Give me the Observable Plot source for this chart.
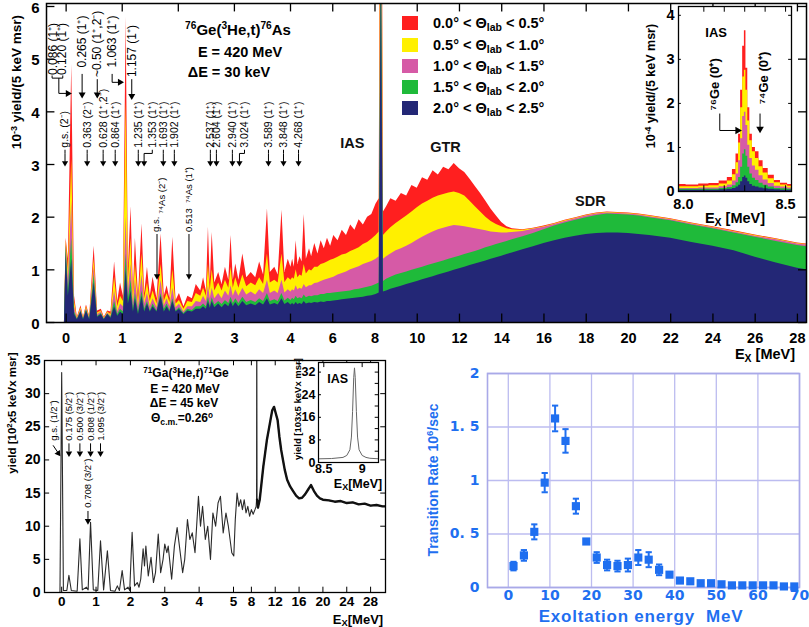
<!DOCTYPE html>
<html><head><meta charset="utf-8">
<script src="https://cdn.jsdelivr.net/npm/d3@7"></script>
<script src="https://cdn.jsdelivr.net/npm/@observablehq/plot@0.6"></script>
<style>
body{margin:0;background:#fff;}
#fig{position:relative;width:809px;height:627px;overflow:hidden;font-family:"Liberation Sans",Arial,Helvetica,sans-serif;background:#fff;}
.abs{position:absolute;white-space:nowrap;line-height:1;}
sup{font-size:0.68em;vertical-align:0.5em;line-height:0;}
sub{font-size:0.72em;vertical-align:-0.3em;line-height:0;}
</style></head><body><div id="fig"></div>
<script>
// ===== Top panel: 76Ge(3He,t)76As spectrum, cumulative tops of the five angle cuts =====
const exTop = [-0.35,-0.03,0.0,0.04,0.10,0.15,0.2,0.265,0.31,0.363,0.42,0.50,0.56,0.628,0.68,0.74,0.80,0.864,0.92,0.97,1.02,1.07,1.11,1.157,1.20,1.235,1.29,1.353,1.40,1.45,1.50,1.55,1.62,1.693,1.75,1.80,1.85,1.902,1.96,2.02,2.1,2.17,2.25,2.32,2.4,2.45,2.5,2.537,2.57,2.604,2.65,2.72,2.78,2.84,2.9,2.94,2.98,3.024,3.08,3.15,3.22,3.3,3.38,3.45,3.52,3.589,3.64,3.72,3.78,3.848,3.9,3.96,4.02,4.1,4.18,4.268,4.35,4.45,4.55,4.65,4.75,4.9,5.0,5.15,5.3,5.45,5.6,5.75,5.9,6.05,6.25,6.45,6.65,6.85,7.05,7.25,7.45,7.65,7.85,8.05,8.2,8.3,8.4,8.55,8.75,9.0,9.25,9.5,9.75,10.0,10.25,10.5,10.75,11.0,11.25,11.5,11.75,12.0,12.25,12.5,12.75,13.0,13.25,13.5,13.75,14.0,14.25,14.5,15.0,15.5,16.0,16.5,17.0,17.5,18.0,18.5,19.0,19.5,20.0,20.5,21.0,22.0,23.0,24.0,25.0,26.0,27.0,28.0,28.43];
const topBlue = [0,0,1.33,0.5,1.2,0.15,0.05,0.2,0.05,0.22,0.05,0.75,0.1,0.15,0.05,0.15,0.08,0.3,0.12,0.2,0.15,1.0,0.35,0.6,0.2,0.45,0.15,0.5,0.2,0.35,0.2,0.3,0.2,0.5,0.2,0.3,0.2,0.4,0.2,0.25,0.15,0.22,0.2,0.25,0.25,0.3,0.25,0.4,0.27,0.4,0.28,0.35,0.28,0.35,0.3,0.4,0.3,0.38,0.3,0.4,0.32,0.35,0.32,0.38,0.33,0.45,0.33,0.36,0.33,0.45,0.34,0.38,0.33,0.36,0.33,0.38,0.34,0.36,0.34,0.4,0.35,0.37,0.36,0.38,0.37,0.39,0.38,0.4,0.4,0.41,0.42,0.43,0.44,0.45,0.46,0.47,0.48,0.5,0.51,0.53,0.56,6.8,0.58,0.6,0.63,0.66,0.69,0.72,0.75,0.78,0.81,0.84,0.87,0.9,0.93,0.96,0.99,1.02,1.05,1.08,1.11,1.14,1.17,1.2,1.23,1.26,1.29,1.32,1.38,1.44,1.5,1.55,1.6,1.64,1.67,1.69,1.7,1.7,1.69,1.67,1.65,1.6,1.52,1.45,1.36,1.24,1.13,1.03,1.0];
const topGreen = [0,0,1.46,0.6,1.6,0.2,0.06,0.22,0.06,0.24,0.06,0.9,0.12,0.17,0.06,0.16,0.1,0.4,0.15,0.25,0.2,1.3,0.45,0.8,0.25,0.55,0.2,0.6,0.25,0.4,0.22,0.35,0.22,0.55,0.25,0.35,0.23,0.45,0.22,0.28,0.17,0.25,0.23,0.3,0.3,0.35,0.3,0.48,0.32,0.47,0.33,0.4,0.34,0.42,0.36,0.48,0.36,0.45,0.36,0.48,0.38,0.42,0.38,0.45,0.4,0.55,0.4,0.43,0.4,0.55,0.41,0.46,0.42,0.46,0.43,0.5,0.45,0.47,0.45,0.52,0.47,0.5,0.49,0.51,0.51,0.53,0.53,0.55,0.55,0.56,0.57,0.58,0.59,0.6,0.62,0.63,0.65,0.67,0.69,0.72,0.75,8,0.78,0.82,0.86,0.9,0.93,0.96,0.99,1.02,1.05,1.08,1.11,1.14,1.17,1.2,1.23,1.26,1.29,1.32,1.35,1.38,1.42,1.45,1.48,1.51,1.54,1.57,1.63,1.69,1.76,1.83,1.89,1.94,1.99,2.03,2.06,2.05,2.04,2.02,1.99,1.93,1.85,1.78,1.70,1.62,1.54,1.46,1.44];
const topPink = [0,0,1.5,0.8,2.3,0.3,0.07,0.25,0.07,0.27,0.08,1.05,0.15,0.2,0.07,0.18,0.12,0.6,0.2,0.35,0.3,2.0,0.6,1.1,0.35,0.8,0.3,0.9,0.35,0.55,0.3,0.45,0.28,0.8,0.32,0.45,0.3,0.65,0.28,0.35,0.2,0.3,0.3,0.4,0.38,0.5,0.4,0.7,0.45,0.65,0.45,0.55,0.45,0.6,0.5,0.7,0.5,0.62,0.5,0.65,0.52,0.58,0.52,0.62,0.55,0.8,0.55,0.6,0.55,0.8,0.56,0.62,0.58,0.62,0.6,0.7,0.62,0.65,0.63,0.72,0.66,0.7,0.7,0.74,0.75,0.78,0.8,0.82,0.84,0.86,0.9,0.93,0.96,1.0,1.03,1.06,1.1,1.13,1.16,1.2,1.25,10,1.2,1.25,1.3,1.36,1.4,1.45,1.5,1.56,1.62,1.67,1.72,1.76,1.79,1.82,1.84,1.83,1.82,1.8,1.78,1.76,1.74,1.72,1.71,1.7,1.7,1.71,1.73,1.77,1.81,1.86,1.92,1.97,2.02,2.06,2.08,2.07,2.06,2.04,2.01,1.95,1.87,1.80,1.72,1.64,1.57,1.49,1.47];
const topYellow = [0,0,1.55,1.0,3.1,0.4,0.08,0.28,0.08,0.3,0.1,1.2,0.18,0.22,0.08,0.2,0.15,0.86,0.3,0.5,0.4,4.2,0.8,1.6,0.5,1.1,0.4,1.3,0.45,0.75,0.4,0.6,0.35,1.1,0.4,0.55,0.38,1.0,0.35,0.42,0.25,0.4,0.38,0.55,0.5,0.65,0.5,1.1,0.6,1.0,0.6,0.75,0.6,0.8,0.65,1.05,0.65,0.85,0.65,0.9,0.68,0.75,0.7,0.85,0.72,1.3,0.75,0.8,0.75,1.3,0.76,0.85,0.8,0.85,0.82,1.0,0.85,0.9,0.88,1.1,0.92,1.0,0.98,1.05,1.05,1.1,1.12,1.15,1.18,1.2,1.24,1.28,1.3,1.35,1.38,1.42,1.48,1.52,1.58,1.65,1.72,12,1.65,1.72,1.8,1.88,1.95,2.02,2.1,2.18,2.25,2.3,2.36,2.4,2.43,2.46,2.48,2.45,2.4,2.3,2.2,2.1,2.0,1.92,1.86,1.82,1.78,1.76,1.75,1.78,1.82,1.87,1.93,1.98,2.03,2.07,2.09,2.08,2.07,2.05,2.02,1.96,1.88,1.81,1.73,1.65,1.58,1.50,1.48];
const topRed = [0,0,1.6,1.2,4.9,0.5,0.1,0.32,0.1,0.33,0.12,1.45,0.22,0.25,0.1,0.22,0.2,1.15,0.4,0.75,0.5,5.8,1.0,2.2,0.6,1.6,0.5,1.87,0.55,1.05,0.5,0.86,0.45,1.68,0.5,0.7,0.45,1.62,0.42,0.55,0.3,0.5,0.45,0.72,0.6,0.85,0.6,1.81,0.75,1.71,0.75,0.95,0.72,1.05,0.8,1.65,0.8,1.11,0.8,1.3,0.85,0.95,0.85,1.15,0.9,2.16,0.95,1.05,0.9,2.13,0.95,1.2,1.05,1.2,1.05,1.55,1.1,1.25,1.15,2.05,1.2,1.4,1.25,1.5,1.3,1.55,1.4,1.6,1.45,1.65,1.55,1.75,1.65,1.85,1.75,1.95,1.85,2.0,2.05,2.25,2.35,14,2.1,2.2,2.35,2.3,2.45,2.4,2.6,2.55,2.75,2.7,2.88,2.8,2.95,2.9,3.02,2.92,2.85,2.72,2.58,2.45,2.3,2.15,2.02,1.9,1.82,1.78,1.76,1.79,1.83,1.88,1.94,1.99,2.04,2.08,2.1,2.09,2.08,2.06,2.03,1.97,1.89,1.82,1.74,1.66,1.59,1.51,1.49];
const topXTicks = [0,1,2,3,4,6,8,10,12,14,16,18,20,22,24,26,28];
const topYTicks = [0,1,2,3,4,5,6];
const upperLabels = ["0.086 (1⁺)","0.120 (1⁺)","0.265 (1⁺)","~0.50 (1⁺,2⁻)","1.063 (1⁺)","1.157 (1⁺)"];
const lowerLabels = ["g.s. (2⁻)","0.363 (2⁻)","0.628 (1⁺,2⁻)","0.864 (1⁺)","1.235 (1⁺)","1.353 (1⁺)","1.693 (1⁺)","1.902 (1⁺)","2.537 (1⁺)","2.604 (1⁺)","2.940 (1⁺)","3.024 (1⁺)","3.589 (1⁺)","3.848 (1⁺)","4.268 (1⁺)"];
const as74Labels = ["g.s.","⁷⁴As (2⁻)","0.513  ⁷⁴As (1⁺)"];
const legendLabels = ["0.0° &lt; Θ<sub>lab</sub> &lt; 0.5°","0.5° &lt; Θ<sub>lab</sub> &lt; 1.0°","1.0° &lt; Θ<sub>lab</sub> &lt; 1.5°","1.5° &lt; Θ<sub>lab</sub> &lt; 2.0°","2.0° &lt; Θ<sub>lab</sub> &lt; 2.5°"];

// ===== Top inset: IAS region =====
const exIns = [7.976,8.05,8.10,8.15,8.20,8.23,8.25,8.265,8.275,8.285,8.295,8.302,8.31,8.32,8.33,8.345,8.36,8.38,8.40,8.43,8.46,8.49,8.53];
const insBlue   = [0.03,0.03,0.03,0.03,0.04,0.05,0.07,0.10,0.14,0.22,0.32,0.35,0.30,0.22,0.16,0.12,0.10,0.08,0.06,0.05,0.04,0.03,0.03];
const insGreen  = [0.05,0.05,0.05,0.05,0.07,0.09,0.13,0.20,0.32,0.55,0.85,0.95,0.80,0.55,0.40,0.30,0.25,0.19,0.14,0.10,0.07,0.06,0.05];
const insPink   = [0.07,0.07,0.08,0.08,0.11,0.15,0.24,0.40,0.70,1.20,1.70,1.80,1.50,1.05,0.75,0.58,0.48,0.36,0.26,0.18,0.12,0.10,0.08];
const insYellow = [0.11,0.11,0.12,0.13,0.17,0.24,0.38,0.65,1.10,1.90,2.60,2.75,2.30,1.60,1.15,0.90,0.75,0.56,0.42,0.29,0.20,0.15,0.12];
const insRed    = [0.16,0.15,0.17,0.18,0.24,0.32,0.50,0.85,1.30,2.30,3.30,3.65,2.80,1.90,1.30,1.00,0.90,0.70,0.52,0.37,0.25,0.19,0.16];

// ===== Bottom-left: 71Ga(3He,t)71Ge spectrum =====
const exBL = [-0.5,-0.05,0.0,0.05,0.15,0.21,0.28,0.45,0.53,0.6,0.72,0.77,0.84,0.92,1.05,1.13,1.22,1.33,1.42,1.55,1.62,1.68,1.76,1.83,1.93,1.98,2.05,2.12,2.2,2.25,2.3,2.37,2.41,2.45,2.52,2.6,2.67,2.73,2.81,2.88,2.95,3.0,3.06,3.1,3.2,3.28,3.36,3.45,3.52,3.58,3.66,3.73,3.8,3.88,3.98,4.04,4.1,4.18,4.25,4.33,4.4,4.48,4.55,4.62,4.7,4.78,4.85,4.95,5.05,5.3,5.6,5.9,6.2,6.5,6.8,7.1,7.4,7.7,8.0,8.3,8.6,8.8,8.87,8.9,8.95,9.1,9.4,9.7,10.0,10.3,10.6,10.9,11.2,11.5,11.8,12.1,12.4,12.7,13.0,13.3,13.6,14.0,14.5,15.0,15.5,16.0,16.5,17.0,17.5,18.0,18.5,19.0,19.5,20.0,21,22,23,24,25,26,27,28,29,30,30.5];
const yieldBL = [0,0,33.2,0.3,0.3,2.6,0.3,0.2,8.1,0.4,0.8,0.4,10.6,0.4,0.3,7.8,0.4,6.3,0.3,0.2,1.0,0.3,3.3,0.4,0.8,0.3,9.1,1.0,1.5,0.8,2,6.6,4,7.0,2.5,5.3,1.5,3,8.8,3,5,7.3,6,7,2.0,7,9.8,6,3,5,11,8,9,6,14.5,10,13,8,10,5,12,10,13.5,14.5,9,12,10,6,5.5,11,15,13,14,12.5,14,12,13,11.5,12.5,11.8,12.5,13,14,45,14,12.8,14,16.5,19,21,23,24.5,26,27.5,28,27,26,23.5,21.5,20,18.5,17,16,15.3,14.6,14.2,14.3,14.8,15.5,16.2,15.3,14.6,14.2,14.0,13.9,13.7,13.8,13.5,13.6,13.3,13.4,13.1,13.2,13.0,13.0];
const blXTicks = [0,1,2,3,4,5,8,12,16,20,24,28];
const blYTicks = [0,5,10,15,20,25,30,35];
const blLabels = ["g.s. (1/2⁻)","0.175 (5/2⁻)","0.500 (3/2⁻)","0.808 (1/2⁻)","1.095 (3/2⁻)","0.708 (3/2⁻)"];

// ===== Bottom-left inset: IAS =====
const exBI = [8.43,8.6,8.75,8.8,8.84,8.86,8.875,8.89,8.90,8.91,8.925,8.94,8.96,9.0,9.05,9.1,9.22];
const yieldBI = [1.3,1.4,1.8,2.5,4.5,9,18,30,33.5,30,18,9,4.5,2.5,1.8,1.5,1.3];

// ===== Bottom-right: transition rate =====
const rateE = [1.25,3.75,6.25,8.75,11.25,13.75,16.25,18.75,21.25,23.75,26.25,28.75,31.25,33.75,36.25,38.75,41.25,43.75,46.25,48.75,51.25,53.75,56.25,58.75,61.25,63.75,66.25,68.75];
const rate = [0.20,0.30,0.52,0.98,1.58,1.37,0.76,0.43,0.28,0.21,0.20,0.21,0.28,0.26,0.165,0.12,0.065,0.058,0.04,0.04,0.03,0.02,0.02,0.02,0.02,0.02,0.01,0.01];
const rateErr = [0.04,0.05,0.07,0.09,0.12,0.11,0.07,0,0.05,0.05,0.05,0.06,0.07,0.07,0.05,0.02,0,0,0,0,0,0,0,0,0,0,0,0];
const brXTicks = [0,10,20,30,40,50,60,70];
const brYTicks = [0,0.5,1,1.5,2];

// ===================================================================
const C = {red:"#ff1f1f", yellow:"#fff000", pink:"#d65aa6", green:"#1fba3a", blue:"#232776"};
const BL = "#1f6ff0";
const FONT = "Liberation Sans, Arial, Helvetica, sans-serif";
const fmt = d => String(d);
const fig = document.getElementById("fig");
function place(node, left, top){ node.style.position="absolute"; node.style.left=left+"px"; node.style.top=top+"px"; fig.appendChild(node); }
function label(html, cx, cy, o={}){
  const d=document.createElement("div"); d.className="abs"; d.innerHTML=html;
  d.style.left=cx+"px"; d.style.top=cy+"px"; d.style.fontSize=(o.size||14)+"px";
  d.style.fontWeight=o.weight||"bold"; d.style.color=o.color||"#000";
  if(o.family) d.style.fontFamily=o.family;
  if(o.ls) d.style.letterSpacing=o.ls+"px";
  const tx = o.anchor==="start"?"0":o.anchor==="end"?"-100%":"-50%";
  d.style.transform=`translate(${tx},-50%)`+(o.rotate?` rotate(${o.rotate}deg)`:"");
  fig.appendChild(d); return d;
}
function arrowMarks(segs, heads, r=2.4){
  return [
    Plot.link(segs,{x1:d=>d[0],y1:d=>d[1],x2:d=>d[2],y2:d=>d[3],stroke:"#000",strokeWidth:1}),
    Plot.dot(heads,{x:d=>d[0],y:d=>d[1],rotate:d=>d[2],symbol:"triangle",r,fill:"#000",stroke:"none"})
  ];
}
const baseStyle = {background:"transparent", fontFamily:FONT, overflow:"visible"};

// ---------- Top panel ----------
const rowsTop = exTop.map((e,i)=>({e,b:topBlue[i],g:topGreen[i],p:topPink[i],yl:topYellow[i],r:topRed[i]}));
const upperX = [-0.235,-0.075,0.285,0.555,0.82,1.18];
const upperY = [4.70,4.70,4.84,4.66,4.84,4.66];
const lowerX = [-0.02,0.375,0.66,0.875,1.286,1.536,1.732,1.929,2.571,2.679,2.964,3.18,3.607,3.875,4.38];
const lowerArrowX = lowerX.map((x,i)=> i===5?1.39 : i===11?3.09 : x);
const upSegs = [[-0.25,4.64,-0.06,4.64],[-0.25,4.64,-0.25,4.69],[-0.06,4.64,-0.06,4.69],[-0.13,4.64,-0.13,4.35],[-0.13,4.35,0.02,4.35],
  [0.285,4.72,0.285,4.35],[0.555,4.62,0.555,4.35],[0.82,4.72,0.82,4.56],[0.82,4.56,0.95,4.56],[1.17,4.62,1.17,4.32]];
const upHeads = [[0.03,4.35,90],[0.285,4.33,180],[0.555,4.33,180],[0.96,4.56,90],[1.17,4.30,180]];
const lowSegs = lowerArrowX.map(x=>[x,3.21,x,3.05]).concat([[1.536,3.28,1.536,3.21],[1.536,3.21,1.39,3.21],[3.18,3.28,3.18,3.21],[3.18,3.21,3.09,3.21]]);
lowerArrowX.forEach((x,i)=>{ if(i!==5 && i!==11) lowSegs.push([x,3.28,x,3.21]); });
const lowHeads = lowerArrowX.map(x=>[x,3.03,180]);
const asSegs = [[1.62,1.68,1.62,0.9],[2.19,1.68,2.19,0.9]];
const asHeads = [[1.62,0.88,180],[2.19,0.88,180]];

const topPlot = Plot.plot({
  width:809, height:365, marginLeft:46, marginRight:3, marginTop:3, marginBottom:43,
  style:baseStyle,
  x:{type:"linear", domain:[-0.35,4,28.43], range:[46,290,806]},
  y:{domain:[0,6.057]},
  marks:[
    Plot.areaY(rowsTop,{x:"e",y1:0,y2:"r",fill:C.red,clip:true}),
    Plot.areaY(rowsTop,{x:"e",y1:0,y2:"yl",fill:C.yellow,clip:true}),
    Plot.areaY(rowsTop,{x:"e",y1:0,y2:"p",fill:C.pink,clip:true}),
    Plot.areaY(rowsTop,{x:"e",y1:0,y2:"g",fill:C.green,clip:true}),
    Plot.areaY(rowsTop,{x:"e",y1:0,y2:"b",fill:C.blue,clip:true}),
    Plot.ruleX(topXTicks,{y1:0,y2:0.16,stroke:"#000",strokeWidth:1.3}),
    Plot.ruleX(topXTicks,{y1:6.057-0.16,y2:6.057,stroke:"#000",strokeWidth:1.3}),
    Plot.ruleY(topYTicks,{x1:-0.35,x2:-0.2,stroke:"#000",strokeWidth:1.3}),
    Plot.ruleY(topYTicks,{x1:28.05,x2:28.43,stroke:"#000",strokeWidth:1.3}),
    Plot.frame({stroke:"#000",strokeWidth:1.5}),
    Plot.axisX({ticks:topXTicks,tickFormat:fmt,tickSize:0,tickPadding:10,fontSize:14.5,fontWeight:"bold",label:null}),
    Plot.axisY({ticks:topYTicks,tickFormat:fmt,tickSize:0,tickPadding:7,fontSize:15,fontWeight:"bold",label:null,dy:1.5}),
    Plot.text(upperLabels,{x:(d,i)=>upperX[i],y:(d,i)=>upperY[i],text:d=>d,rotate:-90,textAnchor:"start",fontSize:12,fill:"#000"}),
    Plot.text(lowerLabels,{x:(d,i)=>lowerX[i],y:3.32,text:d=>d,rotate:-90,textAnchor:"start",fontSize:10.5,fill:"#000"}),
    Plot.text(as74Labels,{x:(d,i)=>[1.605,1.70,2.19][i],y:(d,i)=>[1.72,2.07,1.72][i],text:d=>d,rotate:-90,textAnchor:"start",fontSize:9.5,fill:"#000"}),
    ...arrowMarks(upSegs, upHeads, 2.6),
    ...arrowMarks(lowSegs, lowHeads, 2.3),
    ...arrowMarks(asSegs, asHeads, 2.3),
    Plot.text(["IAS","GTR","SDR"],{x:[6.93,11.34,18.2],y:[3.40,3.32,2.30],text:d=>d,fontSize:14.5,fontWeight:"bold",fill:"#111"})
  ]
});
place(topPlot,0,0);

// ---------- Top inset ----------
const rowsIns = exIns.map((e,i)=>({e,b:insBlue[i],g:insGreen[i],p:insPink[i],yl:insYellow[i],r:insRed[i]}));
const insPlot = Plot.plot({
  width:154, height:226, marginLeft:40, marginRight:1, marginTop:6, marginBottom:35,
  style:baseStyle,
  x:{domain:[7.976,8.529]}, y:{domain:[0,4.2]},
  marks:[
    Plot.frame({fill:"#fff",stroke:"none"}),
    Plot.areaY(rowsIns,{x:"e",y1:0,y2:"r",fill:C.red,curve:"step",clip:true}),
    Plot.areaY(rowsIns,{x:"e",y1:0,y2:"yl",fill:C.yellow,curve:"step",clip:true}),
    Plot.areaY(rowsIns,{x:"e",y1:0,y2:"p",fill:C.pink,curve:"step",clip:true}),
    Plot.areaY(rowsIns,{x:"e",y1:0,y2:"g",fill:C.green,curve:"step",clip:true}),
    Plot.areaY(rowsIns,{x:"e",y1:0,y2:"b",fill:C.blue,curve:"step",clip:true}),
    Plot.ruleX([8.1,8.2,8.3,8.4,8.5],{y1:4.2-0.13,y2:4.2,stroke:"#000"}),
    Plot.ruleX([8.1,8.2,8.3,8.4,8.5],{y1:0,y2:0.13,stroke:"#000"}),
    Plot.ruleY([1,2,3,4],{x1:7.976,x2:7.99,stroke:"#000"}),
    Plot.ruleY([1,2,3,4],{x1:8.515,x2:8.529,stroke:"#000"}),
    Plot.frame({stroke:"#000",strokeWidth:1.3}),
    Plot.axisX({ticks:[8.0,8.5],tickFormat:d3.format(".1f"),tickSize:0,tickPadding:7,fontSize:14.5,fontWeight:"bold",label:null}),
    Plot.axisY({ticks:[0,1,2,3,4],tickFormat:fmt,tickSize:0,tickPadding:4,fontSize:14.5,fontWeight:"bold",label:null}),
    Plot.text(["IAS"],{x:8.16,y:3.6,text:d=>d,fontSize:13,fontWeight:"bold"}),
    Plot.text(["⁷⁶Ge (0⁺)","⁷⁴Ge (0⁺)"],{x:[8.155,8.395],y:[1.84,1.98],text:d=>d,rotate:-90,textAnchor:"start",fontSize:13,fontWeight:"bold"}),
    ...arrowMarks([[8.178,1.77,8.178,1.385],[8.178,1.385,8.26,1.385],[8.375,1.77,8.375,1.45]],[[8.265,1.385,90],[8.375,1.42,180]],2.8)
  ]
});
place(insPlot,638,0);

// ---------- Bottom-left ----------
const rowsBL = exBL.map((e,i)=>({e,v:yieldBL[i]}));
const blX = [-0.23,0.212,0.53,0.84,1.13,0.765];
const blY = [22.9,22.9,22.9,22.9,22.9,12.8];
const blPlot = Plot.plot({
  width:420, height:272, marginLeft:44, marginRight:35, marginTop:5, marginBottom:35,
  style:baseStyle,
  x:{type:"linear",domain:[-0.5,5,30.5],range:[44,233,385]},
  y:{domain:[0,35]},
  marks:[
    Plot.line(rowsBL,{x:"e",y:"v",stroke:"#2a2a2a",strokeWidth:1.1,clip:true}),
    Plot.line(rowsBL.filter(d=>d.e>=8.95),{x:"e",y:"v",stroke:"#111",strokeWidth:2.4,clip:true}),
    Plot.ruleX(blXTicks,{y1:0,y2:0.8,stroke:"#000"}),
    Plot.ruleX(blXTicks,{y1:34.2,y2:35,stroke:"#000"}),
    Plot.ruleY(blYTicks,{x1:-0.5,x2:-0.35,stroke:"#000"}),
    Plot.ruleY(blYTicks,{x1:29.7,x2:30.5,stroke:"#000"}),
    Plot.frame({stroke:"#000",strokeWidth:1.3}),
    Plot.axisX({ticks:blXTicks,tickFormat:fmt,tickSize:0,tickPadding:4,fontSize:13.5,fontWeight:"bold",label:null}),
    Plot.axisY({ticks:blYTicks,tickFormat:fmt,tickSize:0,tickPadding:4,fontSize:14,fontWeight:"bold",label:null}),
    Plot.text(blLabels,{x:(d,i)=>blX[i],y:(d,i)=>blY[i],text:d=>d,rotate:-90,textAnchor:"start",fontSize:9.5,fill:"#000"}),
    ...arrowMarks([[-0.25,22.2,-0.12,21.2],[0.212,22.5,0.212,21.3],[0.53,22.5,0.53,21.3],[0.84,22.5,0.84,21.3],[1.13,22.5,1.13,21.3],[0.765,12.3,0.765,11.1]],
                  [[-0.1,21.0,145],[0.212,21.0,180],[0.53,21.0,180],[0.84,21.0,180],[1.13,21.0,180],[0.765,10.8,180]],2.4)
  ]
});
place(blPlot,0,355);

// ---------- Bottom-left inset ----------
const rowsBI = exBI.map((e,i)=>({e,v:yieldBI[i]}));
const biPlot = Plot.plot({
  width:106, height:135, marginLeft:40, marginRight:6, marginTop:5, marginBottom:30,
  style:baseStyle,
  x:{domain:[8.431,9.213]}, y:{domain:[0,35.4]},
  marks:[
    Plot.frame({fill:"#fff",stroke:"none"}),
    Plot.line(rowsBI,{x:"e",y:"v",stroke:"#666",strokeWidth:1,clip:true}),
    Plot.ruleY([0,4,8,12,16,20,24,28,32],{x1:9.17,x2:9.213,stroke:"#000"}),
    Plot.ruleY([8,16,24,32],{x1:8.431,x2:8.47,stroke:"#000"}),
    Plot.ruleX([8.5,9],{y1:35.4-1.8,y2:35.4,stroke:"#000"}),
    Plot.frame({stroke:"#000",strokeWidth:1.2}),
    Plot.axisX({ticks:[8.5,9],tickFormat:fmt,tickSize:0,tickPadding:2,fontSize:12.5,fontWeight:"bold",label:null}),
    Plot.axisY({ticks:[0,8,16,24,32],tickFormat:fmt,tickSize:0,tickPadding:3,fontSize:12.5,fontWeight:"bold",label:null}),
    Plot.text(["IAS"],{x:8.68,y:29.7,text:d=>d,fontSize:12.5,fontWeight:"bold"})
  ]
});
place(biPlot,278,357);

// ---------- Bottom-right ----------
const rateRows = rateE.map((e,i)=>({e,r:rate[i],err:rateErr[i]}));
const errRows = rateRows.filter(d=>d.err>0);
const brPlot = Plot.plot({
  width:399, height:267, marginLeft:77, marginRight:10, marginTop:13, marginBottom:40,
  style:{...baseStyle, color:BL, fontFamily:"DejaVu Sans, Liberation Sans, sans-serif"},
  x:{domain:[-5,70]}, y:{domain:[0,2]},
  marks:[
    Plot.ruleX(brXTicks,{stroke:"#bcbcf0",strokeWidth:1.3}),
    Plot.ruleY(brYTicks,{stroke:"#bcbcf0",strokeWidth:1.3}),
    Plot.frame({stroke:"#a9a9e8",strokeWidth:1.6}),
    Plot.ruleX(errRows,{x:"e",y1:d=>d.r-d.err,y2:d=>d.r+d.err,stroke:BL,strokeWidth:2}),
    Plot.link(errRows,{x1:d=>d.e-0.75,x2:d=>d.e+0.75,y1:d=>d.r+d.err,y2:d=>d.r+d.err,stroke:BL,strokeWidth:2}),
    Plot.link(errRows,{x1:d=>d.e-0.75,x2:d=>d.e+0.75,y1:d=>d.r-d.err,y2:d=>d.r-d.err,stroke:BL,strokeWidth:2}),
    Plot.dot(rateRows,{x:"e",y:"r",symbol:"square",r:4.6,fill:BL,stroke:"none"}),
    Plot.axisX({ticks:brXTicks,tickFormat:fmt,tickSize:0,tickPadding:3,fontSize:14,fontWeight:"bold",label:null}),
    Plot.axisY({ticks:brYTicks,tickSize:0,tickPadding:8,fontSize:14,fontWeight:"bold",label:null,tickFormat:d=>String(d).replace(".",". ")})
  ]
});
place(brPlot,410,360);

// ---------- Text overlays ----------
label("10<sup>-3</sup> yield/(5 keV msr)",17,82,{size:13.5,rotate:-90});
label("<sup>76</sup>Ge(<sup>3</sup>He,t)<sup>76</sup>As",238,29,{size:15});
label("E = 420 MeV",240,52,{size:14.5});
label("ΔE = 30 keV",229,72,{size:14.5});
legendLabels.forEach((t,i)=>{
  const cy=[23,45,66,87,108][i];
  const s=document.createElement("div"); s.className="abs";
  s.style.left="402px"; s.style.top=(cy-7)+"px"; s.style.width="16px"; s.style.height="14px";
  s.style.background=[C.red,C.yellow,C.pink,C.green,C.blue][i]; fig.appendChild(s);
  label(t,433,cy,{size:14.5,anchor:"start"});
});
label("E<sub>X</sub> [MeV]",765,354,{size:14.5});
label("10<sup>-4</sup> yield/(5 keV msr)",651,86,{size:12.5,rotate:-90});
label("E<sub>X</sub> [MeV]",735,218,{size:14.5});

label("yield [10<sup>2</sup>x5 keVx msr]",13,413,{size:11.5,rotate:-90});
label("<sup>71</sup>Ga(<sup>3</sup>He,<i>t</i>)<sup>71</sup>Ge",186,373,{size:12});
label("E = 420 MeV",185,389,{size:12});
label("ΔE = 45 keV",184,403,{size:12});
label("Θ<sub>c.m.</sub>=0.26<sup>o</sup>",182,418,{size:12});
label("E<sub>X</sub>[MeV]",358,619,{size:13});
label("yield [103x5 keVx msr]",298,409,{size:9.5,rotate:-90});
label("E<sub>X</sub>[MeV]",358,484,{size:12.5});

label("Transition Rate 10<sup>6</sup>/sec",433,480,{size:14,rotate:-90,color:BL});
label("Exoltation energy&nbsp;&nbsp;MeV",641,616,{size:17,color:BL,ls:0.8});
</script></body></html>
